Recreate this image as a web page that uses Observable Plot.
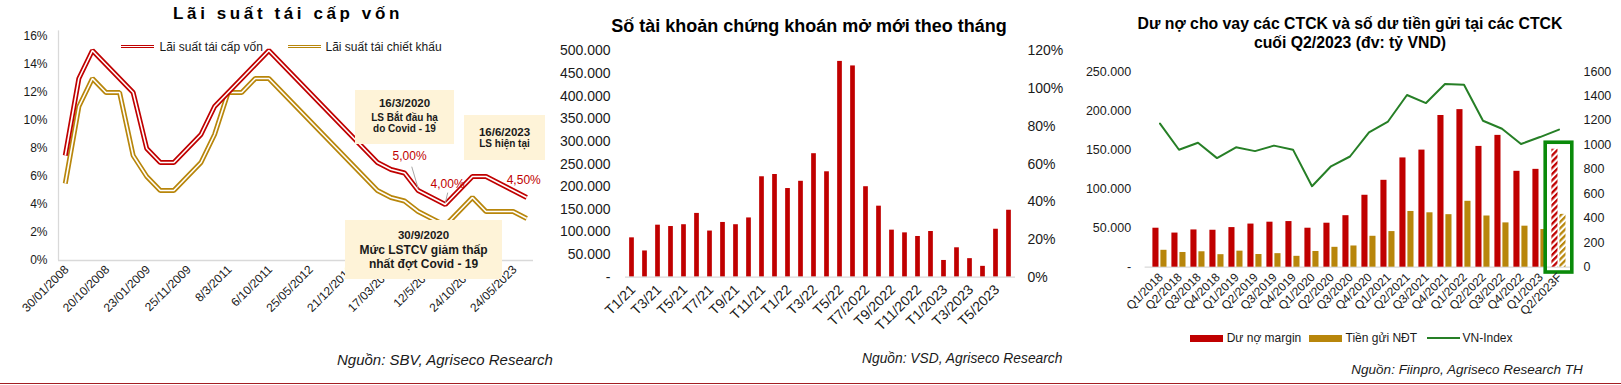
<!DOCTYPE html>
<html><head><meta charset="utf-8">
<script src="https://cdn.jsdelivr.net/npm/d3@7"></script>
<script src="https://cdn.jsdelivr.net/npm/@observablehq/plot@0.6"></script>
<style>
body{margin:0;background:#fff;font-family:"Liberation Sans",Arial,sans-serif;}
#wrap{position:relative;width:1621px;height:385px;overflow:hidden;background:#fff;}
.abs{position:absolute;white-space:nowrap;}
.box{position:absolute;background:#fef3d8;}
.sw{position:absolute;}
</style></head>
<body>
<svg width="0" height="0" style="position:absolute">
<defs>
<pattern id="hatchRed" patternUnits="userSpaceOnUse" width="4.4" height="4.4" patternTransform="rotate(45)"><rect width="4.4" height="4.4" fill="#fff"/><rect width="2.3" height="4.4" fill="#c00000"/></pattern>
<pattern id="hatchGold" patternUnits="userSpaceOnUse" width="4.4" height="4.4" patternTransform="rotate(45)"><rect width="4.4" height="4.4" fill="#fff"/><rect width="2.3" height="4.4" fill="#b8860b"/></pattern>
</defs></svg>
<div id="wrap"></div>
<script>
// ---------- Chart 1 data: Lãi suất tái cấp vốn ----------
const rateDates = ["30/01/2008","20/10/2008","23/01/2009","25/11/2009","8/3/2011","6/10/2011","25/05/2012","21/12/2012","17/03/2014","12/5/2020","24/10/2022","24/05/2023"];
const refinanceRate = [7.5,13,15,14,13,12,8,7,7,8,9,11,12,13,14,15,14,13,12,11,10,9,8,7,6.5,6.25,5,4.5,4,5,6,6,5.5,5,4.5];
const rediscountRate = [5.5,11,13,12,12,7.5,6,5,5,6,7,9,12,12,13,13,12,11,10,9,8,7,6,5,4.5,4.25,3.5,3,2.5,3.5,4.5,3.5,3.5,3.5,3];
const rateYTicks = [0,2,4,6,8,10,12,14,16];
const rateCallouts = [26,28,34];
const rateSeriesNames = ["Lãi suất tái cấp vốn","Lãi suất tái chiết khấu"];

// ---------- Chart 2 data: Số tài khoản mở mới ----------
const accountMonths = ["T1/21","T2/21","T3/21","T4/21","T5/21","T6/21","T7/21","T8/21","T9/21","T10/21","T11/21","T12/21",
  "T1/22","T2/22","T3/22","T4/22","T5/22","T6/22","T7/2022","T8/2022","T9/2022","T10/2022","T11/2022","T12/2022",
  "T1/2023","T2/2023","T3/2023","T4/2023","T5/2023","T6/2023"];
const newAccounts = [87000,58000,115000,112000,116000,141000,102000,121000,116000,131000,222000,227000,
  196000,212000,273000,233000,477000,467000,200000,157000,104000,98000,90000,101000,
  37000,65000,41000,24000,106000,148000];
const accountTicks = [0,50000,100000,150000,200000,250000,300000,350000,400000,450000,500000];
const percentTicks = [0,0.2,0.4,0.6,0.8,1.0,1.2];

// ---------- Chart 3 data: Dư nợ cho vay & tiền gửi ----------
const quarters = ["Q1/2018","Q2/2018","Q3/2018","Q4/2018","Q1/2019","Q2/2019","Q3/2019","Q4/2019","Q1/2020","Q2/2020","Q3/2020","Q4/2020",
  "Q1/2021","Q2/2021","Q3/2021","Q4/2021","Q1/2022","Q2/2022","Q3/2022","Q4/2022","Q1/2023","Q2/2023F"];
const marginDebt = [49800,43600,47600,47200,50600,55100,57500,58300,49800,56200,65800,91900,111000,139600,149600,193800,201300,154300,168400,122500,125000,150700];
const investorDeposits = [21600,18800,19700,16000,20500,16200,17300,13900,20100,25400,27100,39500,45500,71200,69500,67100,84200,65400,56600,52400,48100,67500];
const vnIndex = [1174,960,1017,892,980,949,994,961,662,825,905,1103,1191,1408,1342,1498,1492,1197,1132,1007,1064,1125];
const debtTicks = [0,50000,100000,150000,200000,250000];
const vnTicks = [0,200,400,600,800,1000,1200,1400,1600];
const forecastQuarter = "Q2/2023F";
const highlightBox = {quarter: "Q2/2023F", top: 159000, bottom: -6800};
const debtSeriesNames = ["Dư nợ margin","Tiền gửi NĐT","VN-Index"];

// ---------- styles ----------
const FONT = '"Liberation Sans", Arial, sans-serif';
const RED = "#c00000", GOLD = "#b8860b", GREENLINE = "#267f26", GREENBOX = "#0a8a0a", AXIS = "#d9d9d9", TXT = "#1a1a1a";
const fmtDots = d3.formatLocale({decimal: ",", thousands: ".", grouping: [3], currency: ["", ""]}).format(",.0f");
const wrap = document.getElementById("wrap");
function svgStyle(left, size) {
  return {position: "absolute", left: left + "px", top: "0px", background: "transparent", overflow: "visible",
    maxWidth: "none", fontFamily: FONT, fontSize: size + "px", color: TXT};
}
function label(text, o) {
  const d = document.createElement("div");
  d.className = "abs"; d.textContent = text;
  const s = d.style;
  const lh = o.lh || o.size;
  s.fontSize = o.size + "px"; s.lineHeight = lh + "px"; s.top = (o.cy - lh / 2) + "px";
  s.fontWeight = o.weight || "normal"; s.fontStyle = o.italic ? "italic" : "normal"; s.color = o.color || TXT;
  if (o.ls) s.letterSpacing = o.ls + "px";
  if (o.cx !== undefined) { s.left = (o.cx - 400) + "px"; s.width = "800px"; s.textAlign = "center"; }
  else if (o.left !== undefined) s.left = o.left + "px";
  else s.right = (1621 - o.right) + "px";
  wrap.appendChild(d);
}
function block(cls, l, t, w, h, extra) {
  const d = document.createElement("div");
  d.className = cls;
  Object.assign(d.style, {left: l + "px", top: t + "px", width: w + "px", height: h + "px"}, extra || {});
  wrap.appendChild(d);
}

// ---------- Chart 1 ----------
const rateIdx = (d, i) => i;
const pct = v => v.toFixed(2).replace(".", ",") + "%";
const calloutDx = [-8.6, 2.3, -3], calloutDy = [-34, -20.7, -17];
const c1 = Plot.plot({
  width: 545, height: 385, marginLeft: 58, marginRight: 12, marginTop: 36, marginBottom: 125,
  x: {type: "linear", domain: [-0.5, refinanceRate.length - 0.5], label: null},
  y: {domain: [0, 16], label: null},
  style: svgStyle(0, 12),
  marks: [
    Plot.ruleX([-0.5], {y1: 0, y2: 16.4, stroke: AXIS, strokeWidth: 1.3}),
    Plot.ruleY([0], {stroke: AXIS, strokeWidth: 1.3}),
    Plot.lineY(rediscountRate, {x: rateIdx, y: d => d, stroke: GOLD, strokeWidth: 5, strokeLinejoin: "miter", strokeLinecap: "butt"}),
    Plot.lineY(rediscountRate, {x: rateIdx, y: d => d, stroke: "#fff", strokeWidth: 1.6, strokeLinejoin: "miter", strokeLinecap: "butt"}),
    Plot.lineY(refinanceRate, {x: rateIdx, y: d => d, stroke: RED, strokeWidth: 5, strokeLinejoin: "miter", strokeLinecap: "butt"}),
    Plot.lineY(refinanceRate, {x: rateIdx, y: d => d, stroke: "#fff", strokeWidth: 1.6, strokeLinejoin: "miter", strokeLinecap: "butt"}),
    Plot.link([rateCallouts[0]], {x1: d => d, y1: d => refinanceRate[d] + 0.15, x2: d => d - 0.47, y2: d => refinanceRate[d] + 1.7, stroke: "#a6a6a6", strokeWidth: 1}),
    Plot.link([rateCallouts[1]], {x1: d => d, y1: d => refinanceRate[d] + 0.1, x2: d => d + 0.18, y2: d => refinanceRate[d] + 0.85, stroke: "#a6a6a6", strokeWidth: 1}),
    ...rateCallouts.map((c, k) => Plot.text([c], {x: d => d, y: d => refinanceRate[d], text: d => pct(refinanceRate[d]),
      dx: calloutDx[k], dy: calloutDy[k], fill: RED, fontSize: 12})),
    Plot.axisY({ticks: rateYTicks, tickFormat: d => d + "%", tickSize: 0, tickPadding: 11, fontSize: 12}),
    Plot.axisX({ticks: rateDates.map((_, k) => k * 3), tickFormat: i => rateDates[i / 3], tickRotate: -45, tickSize: 0, tickPadding: 7, dx: 1.5, fontSize: 12})
  ]
});
wrap.appendChild(c1);

// ---------- Chart 2 ----------
const accRows = accountMonths.map((m, i) => ({m, v: newAccounts[i]}));
const pctScale = 500000 / 1.2;
const c2 = Plot.plot({
  width: 500, height: 385, marginLeft: 85, marginRight: 25, marginTop: 50.5, marginBottom: 108.3,
  x: {type: "band", domain: accountMonths, padding: 0, label: null},
  y: {domain: [0, 500000], label: null},
  style: svgStyle(540, 14),
  marks: [
    Plot.barY(accRows, {x: "m", y: "v", fill: RED, insetLeft: 4.15, insetRight: 4.15}),
    Plot.ruleY([0], {stroke: AXIS, strokeWidth: 1.3}),
    Plot.axisY({ticks: accountTicks, tickFormat: d => d === 0 ? "-" : fmtDots(d), tickSize: 0, tickPadding: 15, fontSize: 14}),
    Plot.axisY({anchor: "right", ticks: percentTicks.map(p => p * pctScale), tickFormat: d => Math.round(d / pctScale * 100) + "%", tickSize: 0, tickPadding: 12, fontSize: 14}),
    Plot.axisX({ticks: accountMonths.filter((_, i) => i % 2 === 0), tickRotate: -45, tickSize: 0, tickPadding: 10, dx: 1, fontSize: 14})
  ]
});
wrap.appendChild(c2);

// ---------- Chart 3 ----------
const vnScale = 250000 / 1600;
const qRows = quarters.map((q, i) => ({q, margin: marginDebt[i], deposit: investorDeposits[i], vn: vnIndex[i]}));
const c3 = Plot.plot({
  width: 581, height: 385, marginLeft: 104.6, marginRight: 48, marginTop: 71, marginBottom: 118.3,
  x: {type: "band", domain: quarters, padding: 0, label: null},
  y: {domain: [0, 250000], label: null},
  color: {type: "identity"},
  style: svgStyle(1040, 12),
  marks: [
    Plot.ruleY([0], {stroke: AXIS, strokeWidth: 1.3}),
    Plot.barY(qRows, {x: "q", y: "margin", fill: d => d.q === forecastQuarter ? "url(#hatchRed)" : RED, insetLeft: 2.4, insetRight: 10.5}),
    Plot.barY(qRows, {x: "q", y: "deposit", fill: d => d.q === forecastQuarter ? "url(#hatchGold)" : GOLD, insetLeft: 10.4, insetRight: 2.5}),
    Plot.lineY(qRows, {x: "q", y: d => d.vn * vnScale, stroke: GREENLINE, strokeWidth: 2}),
    Plot.barY([highlightBox], {x: "quarter", y1: "bottom", y2: "top", fill: "none", stroke: GREENBOX, strokeWidth: 3.6, insetLeft: -3.8, insetRight: -3.8}),
    Plot.axisY({ticks: debtTicks, tickFormat: d => d === 0 ? "-" : fmtDots(d), tickSize: 0, tickPadding: 14, fontSize: 12.5}),
    Plot.axisY({anchor: "right", ticks: vnTicks.map(v => v * vnScale), tickFormat: d => String(Math.round(d / vnScale)), tickSize: 0, tickPadding: 10, fontSize: 12.5}),
    Plot.axisX({tickRotate: -45, tickSize: 0, tickPadding: 8, dx: 1, fontSize: 12})
  ]
});
wrap.appendChild(c3);

// ---------- Titles ----------
label("Lãi suất tái cấp vốn", {cx: 288, cy: 13, size: 17, weight: "bold", ls: 3.6, color: "#000"});
label("Số tài khoản chứng khoán mở mới theo tháng", {cx: 809, cy: 25.8, size: 18, weight: "bold", color: "#000"});
label("Dư nợ cho vay các CTCK và số dư tiền gửi tại các CTCK", {cx: 1350, cy: 24, size: 15.8, weight: "bold", color: "#000"});
label("cuối Q2/2023 (đv: tỷ VND)", {cx: 1350, cy: 42.8, size: 15.8, weight: "bold", color: "#000"});

// ---------- Chart 1 legend ----------
block("sw", 121, 44.5, 33, 1.6, {borderTop: "1.7px solid " + RED, borderBottom: "1.7px solid " + RED, background: "#fff"});
label(rateSeriesNames[0], {left: 159.5, cy: 47, size: 12});
block("sw", 288, 44.5, 33, 1.6, {borderTop: "1.7px solid " + GOLD, borderBottom: "1.7px solid " + GOLD, background: "#fff"});
label(rateSeriesNames[1], {left: 325.5, cy: 47, size: 12});

// ---------- Chart 1 annotation boxes ----------
block("box", 355, 90, 99, 54);
label("16/3/2020", {cx: 404.5, cy: 104, size: 11.5, weight: "bold"});
label("LS Bắt đầu hạ", {cx: 404.5, cy: 118.3, size: 10, weight: "bold"});
label("do Covid - 19", {cx: 404.5, cy: 129.3, size: 10, weight: "bold"});
block("box", 464, 115, 81, 45);
label("16/6/2023", {cx: 504.5, cy: 132.3, size: 11.5, weight: "bold"});
label("LS hiện tại", {cx: 504.5, cy: 144.3, size: 10, weight: "bold"});
block("box", 345, 220, 157, 59);
label("30/9/2020", {cx: 423.5, cy: 236, size: 11.5, weight: "bold"});
label("Mức LSTCV giảm thấp", {cx: 423.5, cy: 250, size: 12, weight: "bold"});
label("nhất đợt Covid - 19", {cx: 423.5, cy: 264.3, size: 12, weight: "bold"});

// ---------- Chart 3 legend ----------
block("sw", 1190, 335, 33, 6.7, {background: RED});
label(debtSeriesNames[0], {left: 1226.7, cy: 338.3, size: 12});
block("sw", 1309, 335, 33, 6.7, {background: GOLD});
label(debtSeriesNames[1], {left: 1345.5, cy: 338.3, size: 12});
block("sw", 1426.7, 337.3, 33, 2, {background: GREENLINE});
label(debtSeriesNames[2], {left: 1462.5, cy: 338.3, size: 12});

// ---------- Sources ----------
label("Nguồn: SBV, Agriseco Research", {left: 337, cy: 359, size: 15, italic: true});
label("Nguồn: VSD, Agriseco Research", {left: 862, cy: 359, size: 13.8, italic: true});
label("Nguồn: Fiinpro, Agriseco Research TH", {right: 1582.7, cy: 370, size: 13.5, italic: true});

// bottom rule
block("sw", 0, 382.8, 1621, 1.6, {background: "#a31d22"});
</script>
</body></html>
